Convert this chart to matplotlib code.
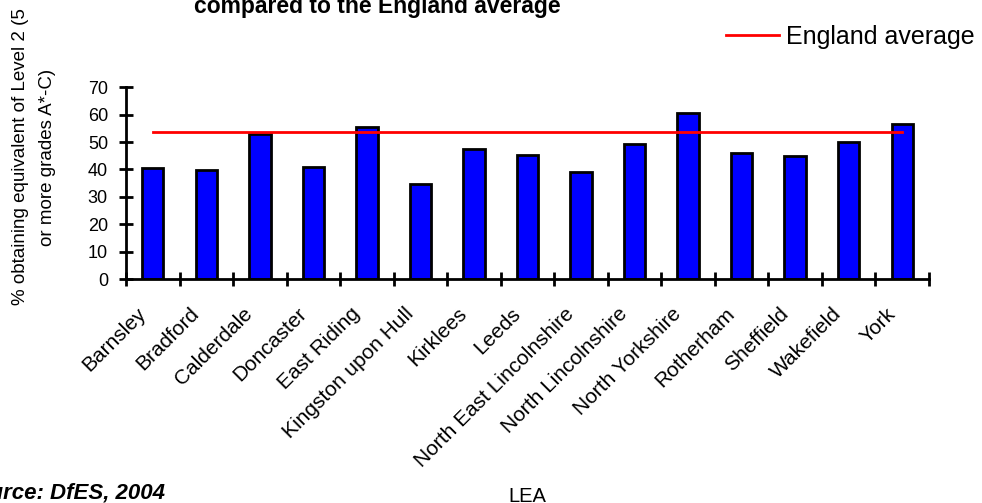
import matplotlib
matplotlib.use("Agg")
import matplotlib.pyplot as plt
import numpy as np
from matplotlib.transforms import ScaledTranslation

plt.rcParams["font.family"] = ["Liberation Sans", "DejaVu Sans"]

# GCSE results by Local Education Authority
leas = ["Barnsley", "Bradford", "Calderdale", "Doncaster", "East Riding",
        "Kingston upon Hull", "Kirklees", "Leeds", "North East Lincolnshire",
        "North Lincolnshire", "North Yorkshire", "Rotherham", "Sheffield",
        "Wakefield", "York"]
pct_level2 = [40.6, 39.8, 52.8, 40.9, 55.5, 34.6, 47.3, 45.3, 39.2,
              49.2, 60.6, 46.0, 44.8, 50.0, 56.6]
england_avg = 53.7
y_ticks = [0, 10, 20, 30, 40, 50, 60, 70]

W, H = 982, 503
fig = plt.figure(figsize=(W / 100, H / 100), dpi=100)
ax = fig.add_axes([126 / W, (H - 279) / H, 803 / W, 191.7 / H])

x = np.arange(len(leas)) + 0.5
ax.bar(x, pct_level2, width=0.4, color="#0000FF", edgecolor="black",
       linewidth=2, zorder=2)
ax.plot(x, np.full(len(leas), england_avg), color="#FF0000", lw=2,
        label="England average", zorder=3)

ax.set_xlim(0, len(leas))
ax.set_ylim(0, 70)
ax.set_yticks(y_ticks)
ax.set_xticks(np.arange(len(leas) + 1))
ax.set_xticklabels([])
ax.set_xticks(x, minor=True)
ax.set_xticklabels(leas, minor=True, rotation=45, ha="right", va="center",
                   rotation_mode="anchor", fontsize=15)

for s in ["top", "right"]:
    ax.spines[s].set_visible(False)
for s in ["left", "bottom"]:
    ax.spines[s].set_linewidth(2)

ax.tick_params(which="major", direction="inout", length=10, width=2,
               labelsize=13, pad=8)
ax.tick_params(axis="x", which="minor", length=0, pad=23)

shift = ScaledTranslation(-10 / 100, 0, fig.dpi_scale_trans)
for lbl in ax.get_xticklabels(minor=True):
    lbl.set_transform(lbl.get_transform() + shift)

ax.legend(loc="center right", bbox_to_anchor=(975 / W, 1 - 37 / H),
          bbox_transform=fig.transFigure, frameon=False, fontsize=18,
          handlelength=2.1, handletextpad=0.3, borderpad=0, borderaxespad=0)

fig.text(194 / W, 1 - 13 / H, "compared to the England average",
         fontsize=16.5, weight="bold", ha="left", va="baseline")
fig.text(34 / W, 1 - 157 / H,
         "% obtaining equivalent of Level 2 (5\nor more grades A*-C)",
         rotation=90, ha="center", va="center", fontsize=13.5,
         linespacing=1.8, multialignment="center")
fig.text(165 / W, 1 - 498 / H, "Source: DfES, 2004", ha="right",
         va="baseline", fontsize=16, weight="bold", style="italic")
fig.text(527.5 / W, 1 - 502 / H, "LEA", ha="center", va="baseline",
         fontsize=14.5)

fig.savefig("out.png", dpi=100)
